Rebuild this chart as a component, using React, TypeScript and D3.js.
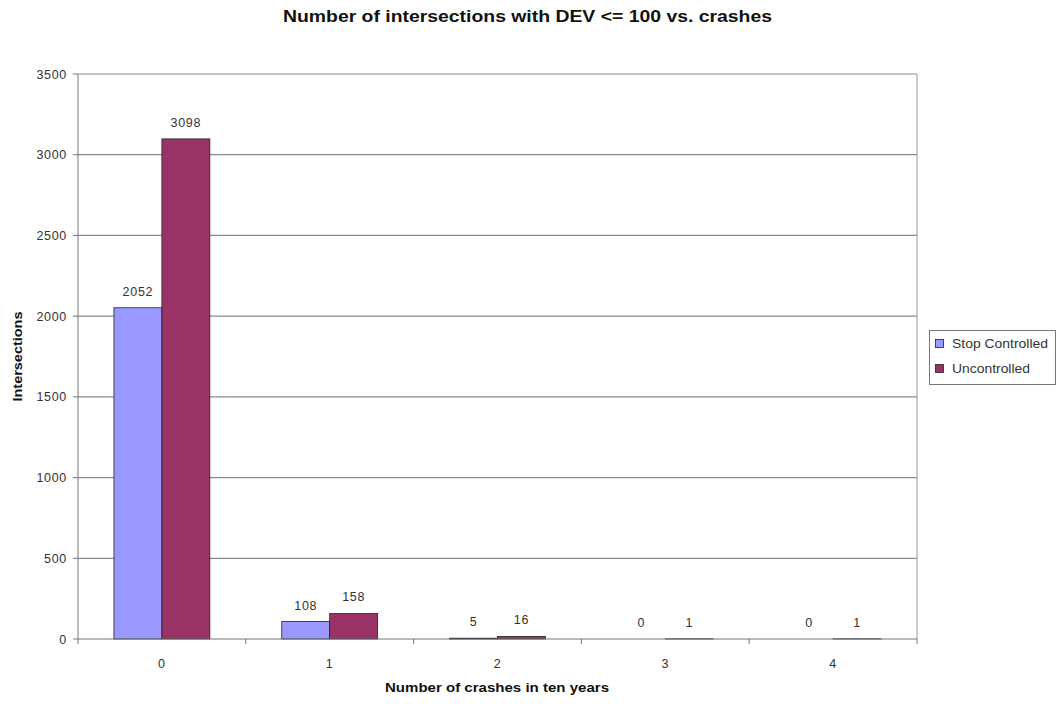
import React from "react";
import * as d3 from "d3";

const categories = ["0", "1", "2", "3", "4"];
const seriesNames = ["Stop Controlled", "Uncontrolled"];
const stopControlled = [2052, 108, 5, 0, 0];
const uncontrolled = [3098, 158, 16, 1, 1];
const yTicks = [0, 500, 1000, 1500, 2000, 2500, 3000, 3500];
const colors = ["#9999FF", "#993366"];

export default function App() {
  const W = 1061, H = 704;
  const left = 78, right = 917, top = 74, bottom = 639;
  const x = d3.scaleBand<string>().domain(categories).range([left, right]).padding(0);
  const y = d3.scaleLinear().domain([0, 3500]).range([bottom, top]);
  const bw = x.bandwidth() / 3.5;
  const series = [stopControlled, uncontrolled];
  const font = "Arial, 'Liberation Sans', sans-serif";
  const numStyle = { fontSize: 12.5, letterSpacing: 0.7 } as const;
  const legendLens = [96, 78];
  return (
    <svg width={W} height={H} style={{ position: "absolute", left: 0, top: 0, background: "#fff" }} fontFamily={font}>
      <rect width={W} height={H} fill="#fff" />
      <text x={283} y={22} fontSize={16} fontWeight="bold" fill="#111" textLength={489} lengthAdjust="spacingAndGlyphs">
        Number of intersections with DEV &lt;= 100 vs. crashes
      </text>
      {yTicks.map((t) => (
        <g key={t}>
          {t > 0 && <line x1={left} x2={right} y1={y(t)} y2={y(t)} stroke="#8a8a8a" strokeWidth={1.2} />}
          <line x1={left - 5} x2={left} y1={y(t)} y2={y(t)} stroke="#777" />
          <text x={left - 11} y={y(t) + 4.5} textAnchor="end" style={numStyle} fill="#333">{t}</text>
        </g>
      ))}
      <line x1={right} x2={right} y1={top} y2={bottom} stroke="#999" />
      {series.map((vals, si) =>
        vals.map((v, ci) => {
          const cx = (x(categories[ci]) as number) + x.bandwidth() / 2;
          const bx = cx - bw + si * bw;
          return (
            <g key={si + "-" + ci}>
              <rect x={bx} y={y(v)} width={bw} height={bottom - y(v)} fill={colors[si]} stroke="#222" strokeWidth={0.8} />
              <text x={bx + bw / 2} y={y(v) - 12} textAnchor="middle" style={numStyle} fill="#333">{v}</text>
            </g>
          );
        })
      )}
      <line x1={left} x2={left} y1={top} y2={bottom} stroke="#777" />
      <line x1={left} x2={right} y1={bottom} y2={bottom} stroke="#777" />
      {categories.map((c, i) => (
        <g key={c}>
          <line x1={(x(c) as number) + x.bandwidth()} x2={(x(c) as number) + x.bandwidth()} y1={bottom} y2={bottom + 5} stroke="#777" />
          {i === 0 && <line x1={left} x2={left} y1={bottom} y2={bottom + 5} stroke="#777" />}
          <text x={(x(c) as number) + x.bandwidth() / 2} y={bottom + 29} textAnchor="middle" style={numStyle} fill="#333">{c}</text>
        </g>
      ))}
      <text x={385} y={692} fontSize={12} fontWeight="bold" fill="#111" textLength={224} lengthAdjust="spacingAndGlyphs">
        Number of crashes in ten years
      </text>
      <text transform={`translate(22, ${(top + bottom) / 2}) rotate(-90)`} textAnchor="middle" fontSize={12} fontWeight="bold" fill="#111" textLength={90} lengthAdjust="spacingAndGlyphs">
        Intersections
      </text>
      <rect x={929.5} y={330.5} width={126} height={54} fill="#fff" stroke="#777" />
      {seriesNames.map((n, i) => (
        <g key={n}>
          <rect x={935.5} y={339.5 + i * 25} width={8} height={8} fill={colors[i]} stroke="#222" strokeWidth={0.8} />
          <text x={952} y={348 + i * 25} fontSize={12} fill="#333" textLength={legendLens[i]} lengthAdjust="spacingAndGlyphs">{n}</text>
        </g>
      ))}
    </svg>
  );
}
